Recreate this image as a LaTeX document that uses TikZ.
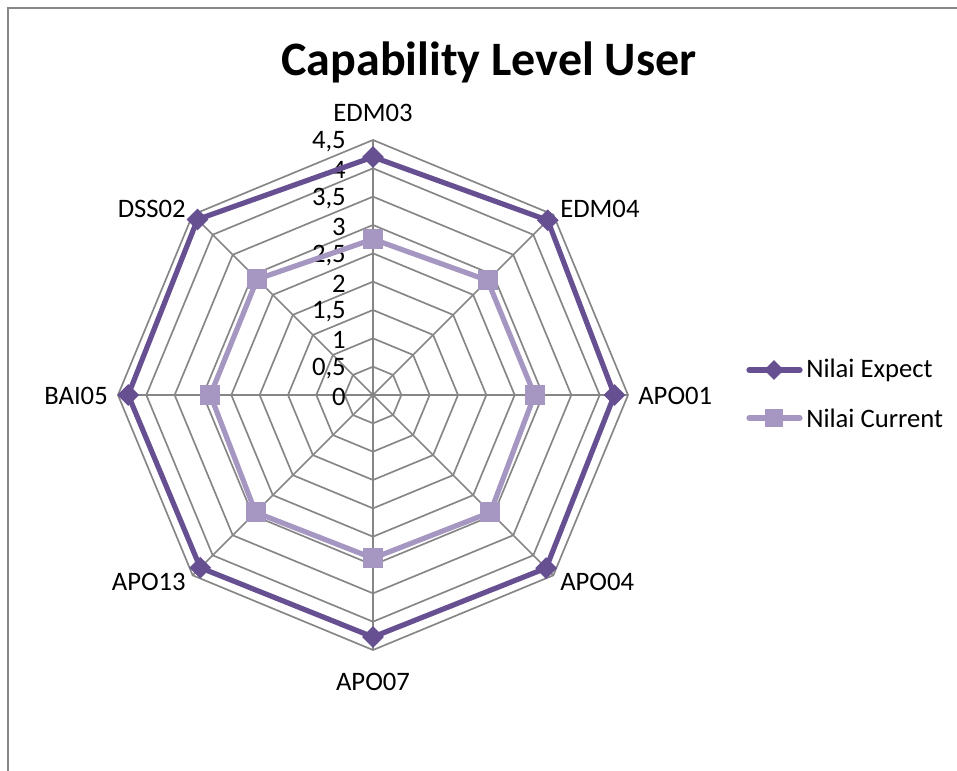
\documentclass[tikz,border=0pt]{standalone}
\usepackage{fontspec}
\setmainfont{Carlito}
\usetikzlibrary{shapes.geometric}
\definecolor{gridgray}{RGB}{134,134,134}
\definecolor{framegray}{RGB}{135,135,135}
\definecolor{expectc}{RGB}{103,80,145}
\definecolor{currentc}{RGB}{165,151,194}
\tikzset{
  gridline/.style={draw=gridgray, line width=1.25pt},
  frameline/.style={draw=framegray, line width=1.1pt},
  expectline/.style={draw=expectc, line width=3.9pt, line join=round},
  currentline/.style={draw=currentc, line width=3.9pt, line join=round},
  diamondmark/.style={diamond, fill=expectc, inner sep=0pt, minimum width=16.5pt, minimum height=16.5pt},
  squaremark/.style={rectangle, fill=currentc, inner sep=0pt, minimum size=15pt},
  axislabel/.style={font=\fontsize{20}{22}\selectfont, inner sep=0pt},
  valuelabel/.style={font=\fontsize{20}{22}\selectfont, inner sep=0pt, anchor=east},
  legendtext/.style={font=\fontsize{20}{22}\selectfont, inner sep=0pt, anchor=west},
  titletext/.style={font=\fontsize{36}{40}\selectfont\bfseries, inner sep=0pt}
}
\begin{document}
\begin{tikzpicture}[x=0.75pt, y=-0.75pt]
  \useasboundingbox (0,0) rectangle (957,771);
  \fill[white] (0,0) rectangle (957,771);
  % chart area border (top and left edges are visible)
  \draw[frameline] (8,771) -- (8,8) -- (957,8);

  \def\cx{373}
  \def\cy{395}
  \def\u{56.67}

  % title
  \node[titletext] (title) at (489,62) {Capability Level User};

  % radar grid: nine octagonal rings at 0.5 steps
  \foreach \k in {1,...,9}
    \draw[gridline] ({\cx},{\cy-\k*0.5*\u})
      \foreach \t in {45,90,...,315}{ -- ({\cx+\k*0.5*\u*sin(\t)},{\cy-\k*0.5*\u*cos(\t)}) } -- cycle;

  % spokes
  \coordinate (O) at (\cx,\cy);
  \foreach \i in {1,...,8}
    \coordinate (s\i) at ({\cx+4.5*\u*sin(45*(\i-1))},{\cy-4.5*\u*cos(45*(\i-1))});
  \foreach \i in {1,...,8}
    \draw[gridline] (O) -- (s\i);

  % scale labels
  \foreach \v/\txt [count=\j] in {0/0, 0.5/{0,5}, 1/1, 1.5/{1,5}, 2/2, 2.5/{2,5}, 3/3, 3.5/{3,5}, 4/4, 4.5/{4,5}}
    \node[valuelabel] (v\j) at (346,{\cy-\v*\u+2}) {\txt};

  % axis labels
  \node[axislabel, anchor=south] (a1) at (373,122) {EDM03};
  \node[axislabel, anchor=west] (a2) at (560,209) {EDM04};
  \node[axislabel, anchor=west] (a3) at (638,396) {APO01};
  \node[axislabel, anchor=west] (a4) at (560,582) {APO04};
  \node[axislabel, anchor=north] (a5) at (373,673) {APO07};
  \node[axislabel, anchor=east] (a6) at (186,582) {APO13};
  \node[axislabel, anchor=east] (a7) at (108,396) {BAI05};
  \node[axislabel, anchor=east] (a8) at (186,209) {DSS02};

  % data points
  \foreach \v [count=\i] in {4.2, 4.36, 4.26, 4.32, 4.27, 4.31, 4.32, 4.38}
    \coordinate (e\i) at ({\cx+\v*\u*sin(45*(\i-1))},{\cy-\v*\u*cos(45*(\i-1))});
  \foreach \v [count=\i] in {2.75, 2.86, 2.85, 2.93, 2.88, 2.93, 2.87, 2.89}
    \coordinate (c\i) at ({\cx+\v*\u*sin(45*(\i-1))},{\cy-\v*\u*cos(45*(\i-1))});

  % series: Nilai Expect
  \draw[expectline] (e1) -- (e2) -- (e3) -- (e4) -- (e5) -- (e6) -- (e7) -- (e8) -- cycle;
  \foreach \i in {1,...,8}
    \node[diamondmark] (me\i) at (e\i) {};

  % series: Nilai Current
  \draw[currentline] (c1) -- (c2) -- (c3) -- (c4) -- (c5) -- (c6) -- (c7) -- (c8) -- cycle;
  \foreach \i in {1,...,8}
    \node[squaremark] (mc\i) at (c\i) {};

  % legend
  \coordinate (la1) at (749,370);
  \coordinate (lb1) at (800,370);
  \draw[expectline, line cap=round] (la1) -- (lb1);
  \node[diamondmark, minimum width=15pt, minimum height=15pt] (lm1) at (774,370) {};
  \node[legendtext] (lt1) at (806,370) {Nilai Expect};

  \coordinate (la2) at (749,418);
  \coordinate (lb2) at (800,418);
  \draw[currentline, line cap=round] (la2) -- (lb2);
  \node[squaremark, minimum size=13.5pt] (lm2) at (774,418) {};
  \node[legendtext] (lt2) at (806,418) {Nilai Current};
\end{tikzpicture}
\end{document}
